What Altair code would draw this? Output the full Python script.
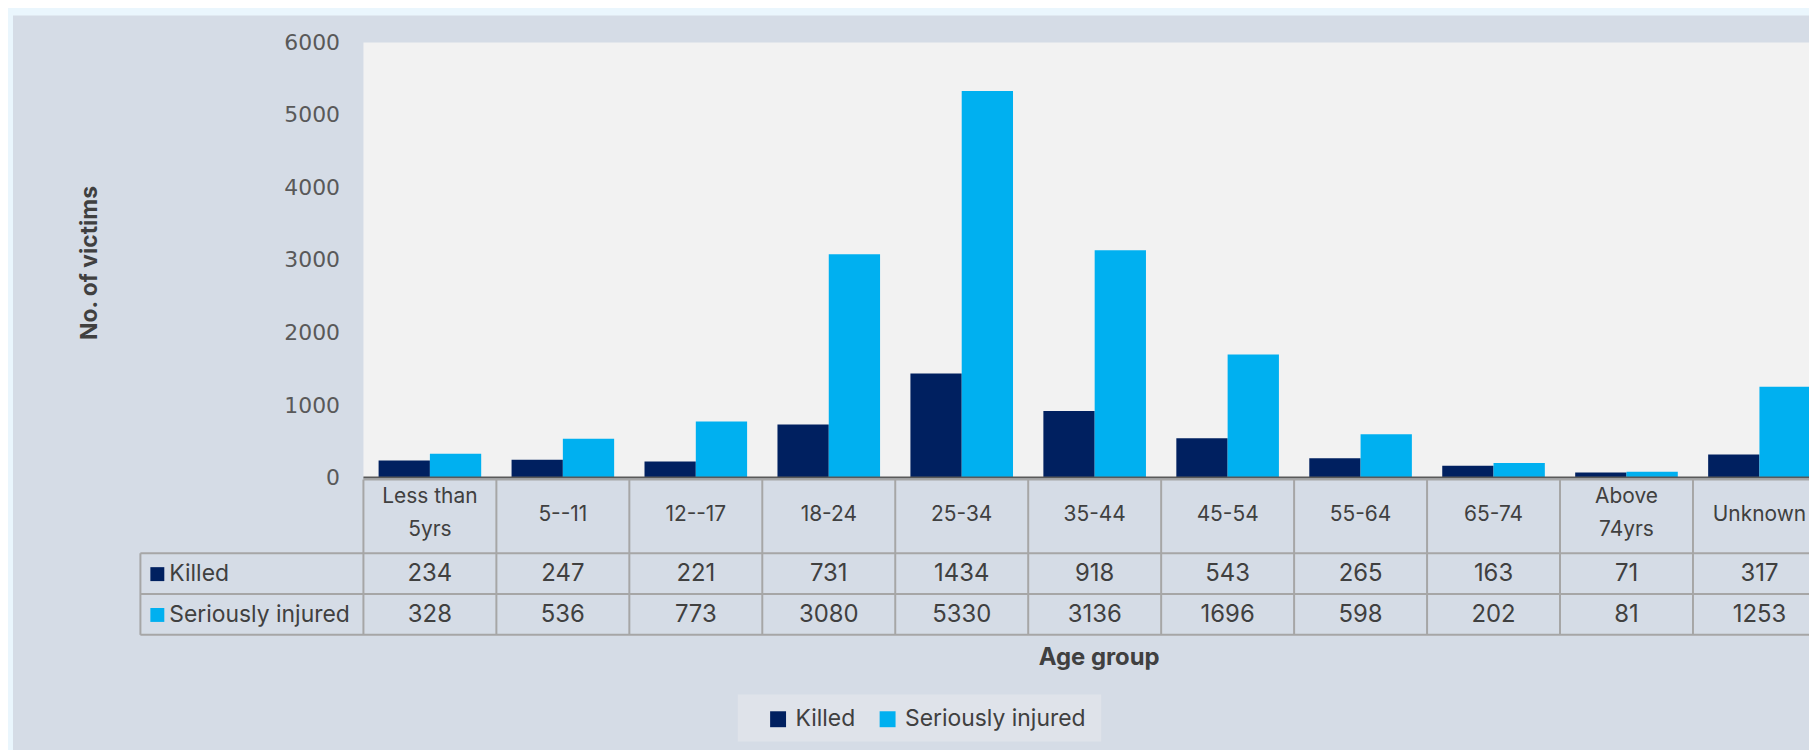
import altair as alt
import pandas as pd

categories = ["Less than 5yrs", "5--11", "12--17", "18-24", "25-34", "35-44",
              "45-54", "55-64", "65-74", "Above 74yrs", "Unknown"]
header_lines = [["Less than", "5yrs"], ["5--11"], ["12--17"], ["18-24"], ["25-34"],
                ["35-44"], ["45-54"], ["55-64"], ["65-74"], ["Above", "74yrs"], ["Unknown"]]
series = ["Killed", "Seriously injured"]
killed = [234, 247, 221, 731, 1434, 918, 543, 265, 163, 71, 317]
injured = [328, 536, 773, 3080, 5330, 3136, 1696, 598, 202, 81, 1253]
colors = ["#002060", "#00b0f0"]
y_ticks = [0, 1000, 2000, 3000, 4000, 5000, 6000]

rows = []
for i, c in enumerate(categories):
    rows.append({"category": c, "series": series[0], "value": killed[i]})
    rows.append({"category": c, "series": series[1], "value": injured[i]})
df = pd.DataFrame(rows)
hdr = pd.DataFrame({"category": categories, "lines": header_lines,
                    "n": [len(l) for l in header_lines]})
keys = pd.DataFrame({"series": series})

W, H = 1452, 437
RANGE = 1469
FONT = "Inter"
TXT = "#404040"
LINE = "#a6a6a6"

xscale = alt.Scale(domain=categories, range=[0, RANGE], paddingInner=0, paddingOuter=0)
x_plain = alt.X("category:N", sort=categories, scale=xscale, axis=None)
color = alt.Color("series:N", sort=series,
                  scale=alt.Scale(domain=series, range=colors),
                  legend=alt.Legend(orient="none", legendX=405, legendY=668,
                                    direction="horizontal", title=None,
                                    symbolType="square", symbolSize=256,
                                    symbolStrokeWidth=0, labelFont=FONT,
                                    labelFontSize=23, labelColor=TXT, labelLimit=400,
                                    labelOffset=6, columnPadding=20,
                                    padding=0))

one = alt.Data(values=[{}])
panel = alt.Chart(one).mark_rect(color="#d5dce6").encode(
    x=alt.value(-352), x2=alt.value(W + 10), y=alt.value(-27), y2=alt.value(760))
plotbg = alt.Chart(one).mark_rect(color="#f2f2f2").encode(
    x=alt.value(0), x2=alt.value(W + 10), y=alt.value(0), y2=alt.value(H))
legbg = alt.Chart(one).mark_rect(color="#dfe3ea").encode(
    x=alt.value(376), x2=alt.value(741), y=alt.value(655), y2=alt.value(702))

bars = alt.Chart(df).mark_bar().encode(
    x=x_plain,
    xOffset=alt.XOffset("series:N", sort=series,
                        scale=alt.Scale(domain=series, paddingOuter=0.296, paddingInner=0)),
    y=alt.Y("value:Q", scale=alt.Scale(domain=[0, 6000], nice=False),
            axis=alt.Axis(values=y_ticks, format="d", grid=False, domain=False, ticks=False,
                          zindex=1, labelFont="DejaVu Sans", labelFontSize=22,
                          labelColor="#595959", labelPadding=24, labelFlush=False,
                          labelBaseline="middle",
                          title="No. of victims", titleFont=FONT, titleFontSize=23,
                          titleFontWeight="bold", titleColor=TXT, titleX=-275,
                          titleY=221, titleBaseline="middle")),
    color=color,
)

# zero axis line and x title
zero_line = alt.Chart(one).mark_rule(color="#595959", strokeWidth=2).encode(
    x=alt.value(0), x2=alt.value(W + 10), y=alt.value(H))
x_title = alt.Chart(one).mark_text(font=FONT, fontSize=24, fontWeight="bold", color=TXT,
                                   baseline="middle").encode(
    x=alt.value(739), y=alt.value(618), text=alt.value("Age group"))

# table grid
vlines = alt.Chart(hdr).mark_rule(color=LINE, strokeWidth=2).encode(
    x=alt.X("category:N", sort=categories, scale=xscale, axis=None, bandPosition=0),
    y=alt.value(439), y2=alt.value(595))
hl_top = alt.Chart(one).mark_rule(color=LINE, strokeWidth=2).encode(
    x=alt.value(0), x2=alt.value(W + 10), y=alt.value(439))
hl_rows = [alt.Chart(one).mark_rule(color=LINE, strokeWidth=2).encode(
    x=alt.value(-224), x2=alt.value(W + 10), y=alt.value(yy)) for yy in (513, 554, 595)]
vl_left = alt.Chart(one).mark_rule(color=LINE, strokeWidth=2).encode(
    x=alt.value(-224), y=alt.value(513), y2=alt.value(595))

header1 = alt.Chart(hdr).transform_filter("datum.n == 1").mark_text(
    font=FONT, fontSize=21, color=TXT, baseline="middle").encode(
    x=x_plain, y=alt.value(475), text="lines")
header2 = alt.Chart(hdr).transform_filter("datum.n == 2").mark_text(
    font=FONT, fontSize=21, color=TXT, lineHeight=33, baseline="middle").encode(
    x=x_plain, y=alt.value(457), text="lines")

row_y = {"Killed": 534, "Seriously injured": 575}
nums = [alt.Chart(df[df.series == s]).mark_text(font=FONT, fontSize=24, color=TXT,
                                                baseline="middle").encode(
    x=x_plain, y=alt.value(row_y[s]), text="value:Q") for s in series]

keymarks = []
for i, s in enumerate(series):
    sub = keys[keys.series == s]
    keymarks.append(alt.Chart(sub).mark_square(size=196, opacity=1).encode(
        x=alt.value(-207), y=alt.value(row_y[s]),
        color=alt.Color("series:N", sort=series, scale=alt.Scale(domain=series, range=colors),
                        legend=None)))
    keymarks.append(alt.Chart(sub).mark_text(font=FONT, fontSize=23, color=TXT,
                                             align="left", baseline="middle").encode(
        x=alt.value(-195), y=alt.value(row_y[s]), text="series:N"))

chart = alt.layer(panel, plotbg, legbg, bars, zero_line, vlines, hl_top, *hl_rows, vl_left,
                  header1, header2, *nums, *keymarks, x_title).properties(
    width=W, height=H,
    autosize=alt.AutoSizeParams(type="none"),
    padding={"left": 357, "top": 33, "right": 0, "bottom": 742 - 33 - H},
    background="#eaf6fd",
).configure_view(stroke=None, fill=None)

chart.save("out.html", embed_options={"renderer": "svg", "actions": False})
